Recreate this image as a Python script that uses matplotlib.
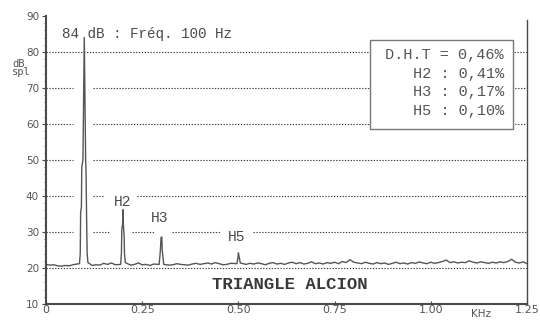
import numpy as np
import matplotlib
matplotlib.use("Agg")
import matplotlib.pyplot as plt
from matplotlib.patches import Rectangle
from matplotlib.ticker import MultipleLocator

# --- Data ---
# noise floor, one sample every 10 Hz from 0 to 1.25 kHz
floor_freq = np.round(np.arange(0, 1.2501, 0.01), 3)
floor_level = [
    21.0, 20.8, 20.9, 20.6, 20.5, 20.7, 20.6, 20.9, 21.1, 21.2,   # 0.00-0.09
    21.0, 21.0, 20.7, 20.9, 20.8, 21.3, 21.0, 21.4, 20.9, 21.1,   # 0.10-0.19
    21.0, 21.2, 20.8, 21.0, 21.4, 20.9, 21.0, 20.7, 21.1, 21.0,   # 0.20-0.29
    21.0, 21.1, 20.8, 20.9, 21.2, 21.0, 20.9, 20.8, 21.1, 21.3,   # 0.30-0.39
    21.0, 21.2, 21.4, 21.1, 21.5, 21.2, 20.9, 21.0, 21.3, 21.1,   # 0.40-0.49
    21.2, 21.2, 21.0, 21.3, 21.1, 21.4, 21.2, 20.9, 21.3, 21.5,   # 0.50-0.59
    21.1, 21.3, 21.0, 21.4, 21.6, 21.2, 21.5, 21.1, 21.3, 21.7,   # 0.60-0.69
    21.2, 21.4, 21.1, 21.5, 21.3, 21.6, 21.2, 21.8, 21.5, 22.3,   # 0.70-0.79
    21.6, 21.4, 21.2, 21.6, 21.3, 21.1, 21.5, 21.2, 21.4, 21.0,   # 0.80-0.89
    21.3, 21.6, 21.2, 21.4, 21.1, 21.5, 21.3, 21.7, 21.4, 21.2,   # 0.90-0.99
    21.6, 21.3, 21.5, 21.8, 22.2, 21.5, 21.7, 21.4, 21.6, 21.5,   # 1.00-1.09
    22.0, 21.6, 21.4, 21.7, 21.5, 21.3, 21.6, 21.4, 21.7, 21.5,   # 1.10-1.19
    21.8, 22.4, 21.6, 21.4, 21.7, 21.2,                           # 1.20-1.25
]

# fundamental and harmonics (kHz, dB spl)
harm_center = [0.100, 0.200, 0.300, 0.500]
peak_freq = [
    0.087, 0.089, 0.090, 0.092, 0.093, 0.096, 0.098, 0.0995, 0.101,
    0.103, 0.104, 0.106, 0.107, 0.109,
    0.194, 0.196, 0.197, 0.199, 0.200, 0.201, 0.203, 0.204, 0.206,
    0.294, 0.297, 0.299, 0.301, 0.302, 0.304, 0.306,
    0.496, 0.499, 0.500, 0.502, 0.505,
]
peak_level = [
    21.2, 24.0, 35.5, 37.0, 48.0, 50.0, 70.0, 84.0, 70.0,
    50.0, 47.0, 30.0, 24.0, 21.5,
    21.0, 24.0, 31.0, 32.0, 36.2, 32.0, 29.0, 24.0, 21.5,
    21.0, 24.5, 28.5, 28.6, 25.0, 23.0, 21.0,
    21.2, 23.0, 24.2, 23.0, 21.4,
]

harm_labels = ["H2", "H3", "H5"]
harm_label_pos = [(0.198, 38.3), (0.295, 33.9), (0.495, 28.6)]

dht_lines = ["D.H.T = 0,46%", "H2 : 0,41%", "H3 : 0,17%", "H5 : 0,10%"]
title_text = "84 dB : Fréq. 100 Hz"
name_text = "TRIANGLE ALCION"

yticks = [10, 20, 30, 40, 50, 60, 70, 80, 90]
xticks = [0, 0.25, 0.50, 0.75, 1.00, 1.25]
xtick_labels = ["0", "0.25", "0.50", "0.75", "1.00", "1.25"]
grid_levels = [20, 30, 40, 50, 60, 70, 80]

# --- merge floor + peaks ---
floor_freq = np.asarray(floor_freq)
floor_level = np.asarray(floor_level)
keep = np.ones(len(floor_freq), bool)
for fc in harm_center:
    keep &= np.abs(floor_freq - fc) > 0.012
freq = np.concatenate([floor_freq[keep], peak_freq])
level = np.concatenate([floor_level[keep], peak_level])
order = np.argsort(freq)
freq, level = freq[order], level[order]

INK = "#4a4a4a"
MONO = "Liberation Mono"

fig = plt.figure(figsize=(5.4, 3.21), dpi=100)
ax = fig.add_axes([46 / 540, 17 / 321, 481 / 540, 288 / 321])
ax.set_xlim(0, 1.25)
ax.set_ylim(10, 90)

# dotted grid, broken where the old screen overwrote it
gaps = {
    30: [(0.070, 0.122), (0.166, 0.223), (0.283, 0.327), (0.451, 0.537)],
    40: [(0.070, 0.122), (0.148, 0.236)],
    50: [(0.070, 0.122)],
    60: [(0.070, 0.122)],
    70: [(0.070, 0.122)],
}
for lv in grid_levels:
    edges = [0.0]
    for a, b in gaps.get(lv, []):
        edges += [a, b]
    edges.append(1.25)
    for a, b in zip(edges[::2], edges[1::2]):
        ax.plot([a, b], [lv, lv], color="#3c3c3c", lw=0.8,
                linestyle=(0, (1.2, 1.4)), zorder=1)

ax.plot(freq, level, color="#555555", lw=1.0, zorder=2)

# text labels
ax.text(0.041, 85, title_text, family=MONO, fontsize=10.3, color=INK,
        ha="left", va="center", zorder=4)
for lab, (x, y) in zip(harm_labels, harm_label_pos):
    ax.text(x, y, lab, family=MONO, fontsize=10.5, color=INK,
            ha="center", va="center", zorder=4)
ax.text(0.633, 15.3, name_text, family=MONO, fontsize=12.5, color="#3a3a3a",
        fontweight="bold", ha="center", va="center", zorder=4)

# distortion box
ax.add_patch(Rectangle((0.674, 0.608), 0.297, 0.309, transform=ax.transAxes,
                       facecolor="white", edgecolor="#777777", lw=1.0, zorder=3))
for i, line in enumerate(dht_lines):
    ax.text(0.952, 0.865 - i * 0.065, line, transform=ax.transAxes,
            family=MONO, fontsize=11, color="#555555",
            ha="right", va="center", zorder=4)

# axes styling
ax.spines["top"].set_visible(False)
for side in ["left", "bottom"]:
    ax.spines[side].set_color(INK)
    ax.spines[side].set_linewidth(1.5)
ax.spines["right"].set_color(INK)
ax.spines["right"].set_linewidth(1.0)
ax.spines["right"].set_bounds(10, 89)

ax.set_yticks(yticks)
ax.set_yticklabels([str(v) for v in yticks])
ax.yaxis.set_minor_locator(MultipleLocator(2))
ax.set_xticks(xticks)
ax.set_xticklabels(xtick_labels)
ax.tick_params(axis="y", which="major", length=3, width=0.8, color=INK,
               pad=2, labelsize=7.5, labelcolor="#555555")
ax.tick_params(axis="y", which="minor", length=1.5, width=0.6, color=INK)
ax.tick_params(axis="x", which="major", direction="in", length=2.5, width=0.8,
               color=INK, pad=1, labelsize=8, labelcolor="#555555")

fig.text(481 / 540, 1 - 314 / 321, "KHz", fontsize=7.5, color="#555555",
         ha="center", va="center")
fig.text(12 / 540, 1 - 68 / 321, "dB\nspl", family="DejaVu Sans Mono",
         fontsize=7.5, color="#555555", ha="left", va="center",
         linespacing=0.85)

fig.savefig("out.png", dpi=100)
